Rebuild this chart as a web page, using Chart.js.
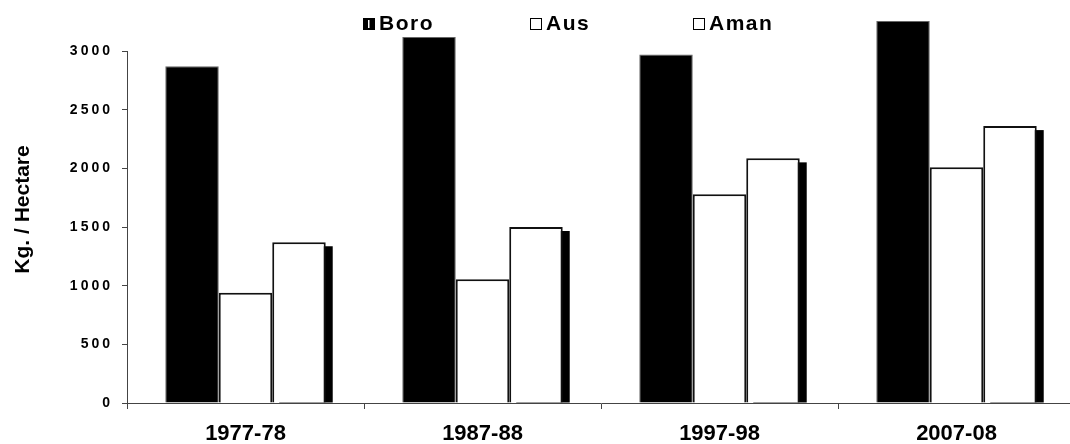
<!DOCTYPE html>
<html>
<head>
<meta charset="utf-8">
<script src="https://cdn.jsdelivr.net/npm/chart.js@4"></script>
<style>
  html, body { margin: 0; padding: 0; background: #fff; overflow: hidden; }
  #wrap { width: 1080px; height: 444px; position: relative; }
</style>
</head>
<body>
<div id="wrap"><canvas id="c" width="1080" height="444"></canvas></div>
<script>
const categories = ["1977-78", "1987-88", "1997-98", "2007-08"];
const seriesNames = ["Boro", "Aus", "Aman"];
const boroValues = [2870, 3120, 2970, 3255];
const ausValues  = [940, 1055, 1780, 2010];
const amanValues = [1370, 1500, 2085, 2360];
const yTicks = [0, 500, 1000, 1500, 2000, 2500, 3000];
const yTitle = "Kg. / Hectare";

const LEGEND_X = [363, 530, 693];

const shadowPlugin = {
  id: 'amanShadow',
  beforeDatasetsDraw(chart) {
    const c = chart.ctx;
    const meta = chart.getDatasetMeta(2);
    c.save();
    c.fillStyle = '#000';
    meta.data.forEach(bar => {
      const p = bar.getProps(['x', 'y', 'base', 'width'], true);
      c.fillRect(p.x - p.width / 2 + 7, p.y + 4, p.width, p.base - p.y - 4);
    });
    c.restore();
  }
};

const legendPlugin = {
  id: 'manualLegend',
  afterDraw(chart) {
    const c = chart.ctx;
    c.save();
    c.font = 'bold 21px "Liberation Sans", Arial, sans-serif';
    c.letterSpacing = '1.5px';
    c.textBaseline = 'alphabetic';
    c.textAlign = 'left';
    chart.data.datasets.forEach((ds, i) => {
      const bx = LEGEND_X[i];
      c.fillStyle = ds.backgroundColor;
      c.fillRect(bx, 18, 12, 12);
      c.strokeStyle = '#000';
      c.lineWidth = 1;
      c.strokeRect(bx + 0.5, 18.5, 11, 11);
      if (i === 0) {
        c.fillStyle = '#fff';
        c.fillRect(bx + 5, 20, 1.5, 8);
      }
      c.fillStyle = '#000';
      c.fillText(ds.label, bx + 16, 30);
    });
    c.restore();
  }
};

const axisColor = '#444';

const chart = new Chart(document.getElementById('c'), {
  type: 'bar',
  data: {
    labels: categories,
    datasets: [
      { label: seriesNames[0], data: boroValues, backgroundColor: '#000', borderColor: '#666', borderWidth: 1, clip: false },
      { label: seriesNames[1], data: ausValues, backgroundColor: '#fff', borderColor: '#111', borderWidth: 2, clip: false },
      { label: seriesNames[2], data: amanValues, backgroundColor: '#fff', borderColor: '#111', borderWidth: 2, clip: false }
    ]
  },
  options: {
    responsive: false,
    animation: false,
    devicePixelRatio: 1,
    layout: { padding: { top: 51, right: 5, bottom: 0, left: 0 } },
    datasets: { bar: { categoryPercentage: 0.677, barPercentage: 1.0 } },
    plugins: { legend: { display: false }, tooltip: { enabled: false } },
    scales: {
      x: {
        grid: { display: true, drawOnChartArea: false, drawTicks: true, tickLength: 6, color: axisColor, offset: true },
        border: { display: true, color: axisColor, width: 1 },
        ticks: { color: '#000', padding: 12, maxRotation: 0,
                 font: { family: '"Liberation Sans Narrow", "Arial Narrow", "Liberation Sans", sans-serif', weight: 'bold', size: 22 } },
        afterFit(scale) { scale.height = 41; }
      },
      y: {
        min: 0, max: 3000,
        afterBuildTicks(scale) { scale.ticks = yTicks.map(v => ({ value: v })); },
        grid: { display: true, drawOnChartArea: false, drawTicks: true, tickLength: 5, color: axisColor },
        border: { display: true, color: axisColor, width: 1 },
        ticks: { color: '#000', padding: 9, callback: v => String(v),
                 font: { family: '"Liberation Sans", Arial, sans-serif', weight: 'bold', size: 14 } },
        title: { display: true, text: '      ' + yTitle, color: '#000', padding: { top: 11, bottom: 0 },
                 font: { family: '"Liberation Sans", Arial, sans-serif', weight: 'bold', size: 21 } },
        afterFit(scale) { scale.width = 127; }
      }
    }
  },
  plugins: [shadowPlugin, legendPlugin]
});

const ys = chart.scales.y;
const origDrawLabels = ys.drawLabels;
ys.drawLabels = function (area) {
  const c = this.ctx;
  c.save();
  c.letterSpacing = '3px';
  origDrawLabels.call(this, area);
  c.restore();
};
chart.draw();
</script>
</body>
</html>
